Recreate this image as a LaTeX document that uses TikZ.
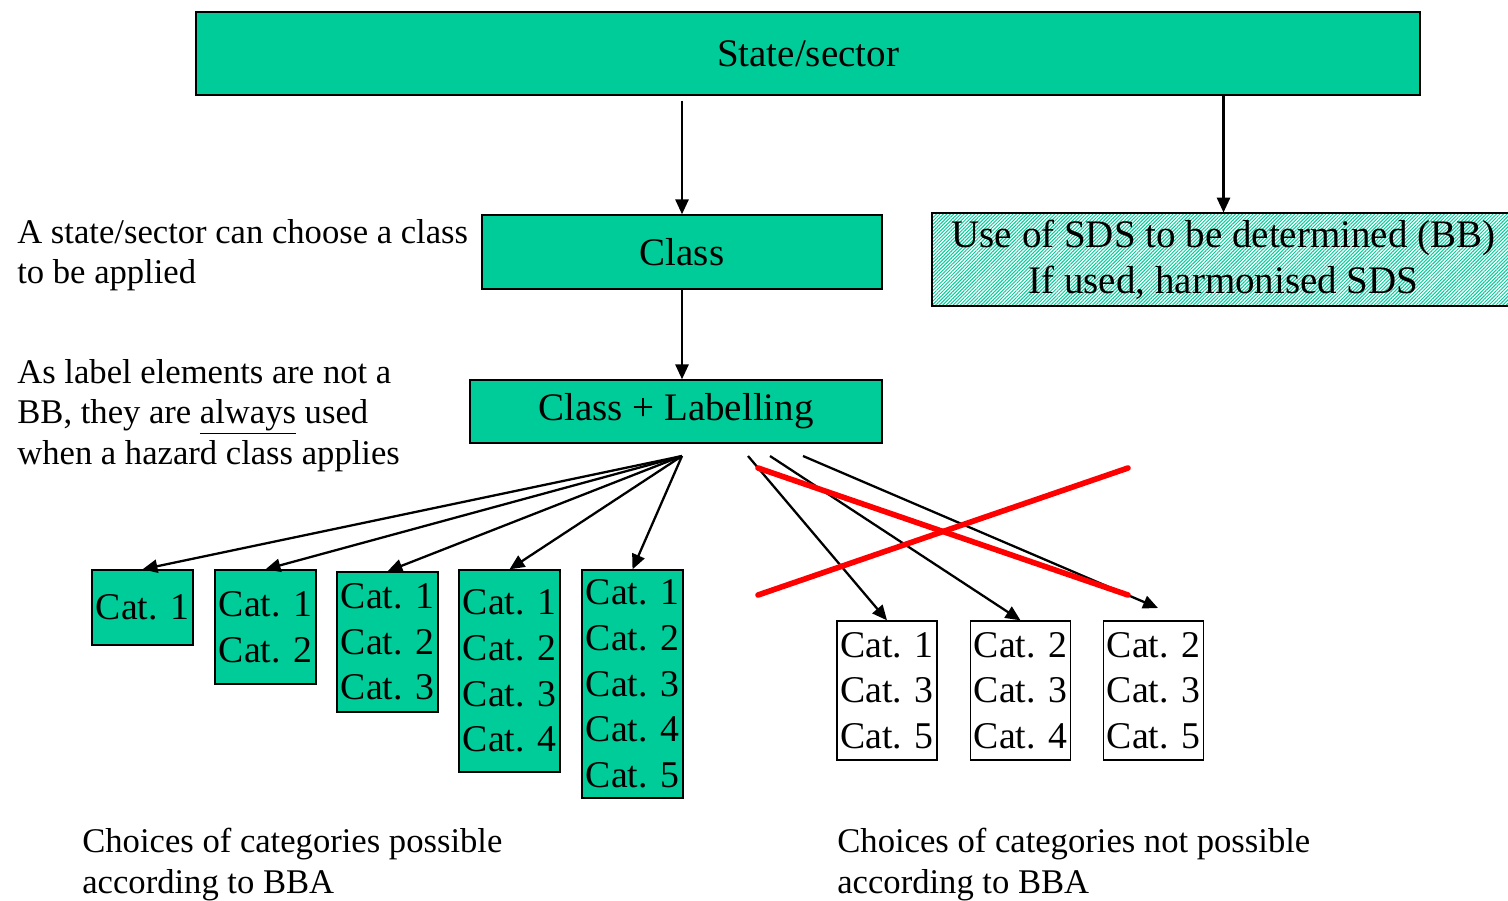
\documentclass[tikz,border=0pt]{standalone}
\usepackage{fontspec}
\setmainfont{Liberation Serif}
\usetikzlibrary{arrows.meta, positioning, calc, patterns.meta}

\definecolor{catgreen}{RGB}{0,204,153}

\begin{document}
\begin{tikzpicture}[x=0.02cm, y=-0.02cm,
  box/.style={draw, line width=0.8pt, fill=catgreen, inner sep=0pt, align=center,
    font=\fontsize{22.2}{26}\selectfont},
  cat/.style={box, minimum width=2.02cm, font=\fontsize{21.5}{26}\selectfont},
  nocat/.style={cat, fill=white, minimum width=2cm, minimum height=2.78cm},
  sds/.style={box, preaction={fill=white},
    pattern={Lines[angle=45,distance=1.4pt,line width=0.55pt]}, pattern color=catgreen},
  note/.style={anchor=north west, inner sep=0pt, align=left,
    font=\fontsize{19.7}{23}\selectfont},
  to/.style={-{Triangle[length=8.5pt,width=7.5pt]}, line width=1.3pt},
  cross/.style={red, line width=3.2pt, line cap=round}]

  \useasboundingbox (0,0) rectangle (1508,900);

  % Kopf und Klasse
  \node[box, minimum width=24.48cm, minimum height=1.66cm] (state) at (808,53.5) {State/sector};
  \node[box, minimum width=8cm, minimum height=1.48cm] (class) at (682,252) {Class};
  \node[sds, minimum width=11.66cm, minimum height=1.86cm] (sds) at (1223.5,259.5)
      {Use of SDS to be determined (BB)\\If used, harmonised SDS};
  \node[box, minimum width=8.24cm, minimum height=1.26cm] (label) at (676,411.5) {Class + Labelling};

  % Anmerkungen
  \node[note] (choose) at (17,219) {A state/sector can choose a class\\to be applied};
  \node[note] (bbnote) at (17,359) {As label elements are not a\\BB, they are \underline{always} used\\when a hazard class applies};
  \node[note] (possible) at (82,828) {Choices of categories possible\\according to BBA};
  \node[note] (impossible) at (837,828) {Choices of categories not possible\\according to BBA};

  % Kategorien (moeglich)
  \node[cat, minimum height=1.5cm] (c1) at (142.5,607.5) {Cat. 1};
  \node[cat, minimum height=2.28cm] (c2) at (265.5,627) {Cat. 1\\Cat. 2};
  \node[cat, minimum height=2.8cm] (c3) at (387.5,642) {Cat. 1\\Cat. 2\\Cat. 3};
  \node[cat, minimum height=4.04cm] (c4) at (509.5,671) {Cat. 1\\Cat. 2\\Cat. 3\\Cat. 4};
  \node[cat, minimum height=4.56cm] (c5) at (632.5,684) {Cat. 1\\Cat. 2\\Cat. 3\\Cat. 4\\Cat. 5};

  % Kategorien (nicht moeglich)
  \node[nocat] (w1) at (887,690.5) {Cat. 1\\Cat. 3\\Cat. 5};
  \node[nocat] (w2) at (1020.5,690.5) {Cat. 2\\Cat. 3\\Cat. 4};
  \node[nocat] (w3) at (1153.5,690.5) {Cat. 2\\Cat. 3\\Cat. 5};

  \coordinate (fan) at (682,456);
  \coordinate (x1) at (748,456);
  \coordinate (x2) at (770,456);
  \coordinate (x3) at (803,456);
  \coordinate (x3end) at (1158,608);
  \coordinate (r1) at (758,468);
  \coordinate (r2) at (1128,595);
  \coordinate (r3) at (758,595);
  \coordinate (r4) at (1128,468);

  % Pfeile
  \draw[to, shorten <=2.8pt] (state.south -| class.north) -- (class.north);
  \draw[to] (state.south -| sds.north) -- (sds.north);
  \draw[to] (class.south) -- (class.south |- label.north);
  \foreach \c in {c1,c2,c3,c4,c5}
    \draw[to] (fan) -- (\c.north);
  \draw[to] (x1) -- (w1.north);
  \draw[to] (x2) -- (w2.north);
  \draw[to] (x3) -- (x3end);

  % Kreuz
  \draw[cross] (r1) -- (r2);
  \draw[cross] (r3) -- (r4);
\end{tikzpicture}
\end{document}
